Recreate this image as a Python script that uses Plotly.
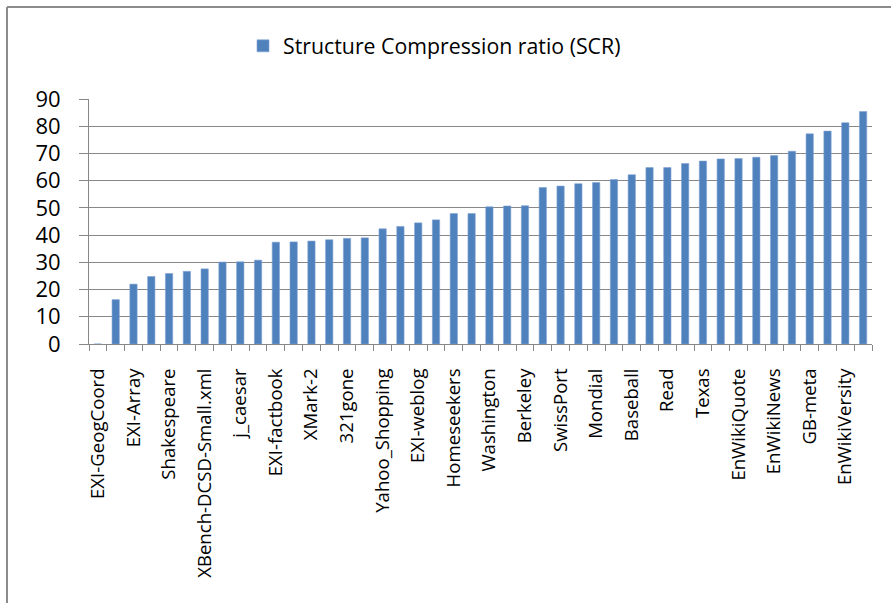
import plotly.graph_objects as go

# ---- data ----
scr_values = [0, 16.3, 22.0, 24.8, 25.9, 26.7, 27.6, 30.1, 30.2, 30.8,
              37.4, 37.5, 37.8, 38.3, 38.8, 39.0, 42.3, 43.2, 44.5, 45.6,
              47.9, 47.9, 50.4, 50.7, 50.8, 57.5, 58.0, 58.9, 59.3, 60.4,
              62.2, 64.8, 64.8, 66.3, 67.2, 68.0, 68.1, 68.6, 69.2, 70.8,
              77.2, 78.2, 81.3, 85.4]
shown_labels = ["EXI-GeogCoord", "EXI-Array", "Shakespeare", "XBench-DCSD-Small.xml",
                "j_caesar", "EXI-factbook", "XMark-2", "321gone", "Yahoo_Shopping",
                "EXI-weblog", "Homeseekers", "Washington", "Berkeley", "SwissPort",
                "Mondial", "Baseball", "Read", "Texas", "EnWikiQuote", "EnWikiNews",
                "GB-meta", "EnWikiVersity"]
y_ticks = [0, 10, 20, 30, 40, 50, 60, 70, 80, 90]
series_name = "Structure Compression ratio (SCR)"

positions = list(range(len(scr_values)))
label_positions = positions[::2]
boundaries = [p - 0.5 for p in positions] + [positions[-1] + 0.5]

W, H = 891, 603
ML, MR, MT, MB = 89, 19, 99, 259
PW, PH = W - ML - MR, H - MT - MB

GRID = "#878787"
FONT = "Open Sans, Noto Sans, sans-serif"

fig = go.Figure()
fig.add_trace(go.Bar(
    x=positions, y=scr_values, name=series_name, width=0.41,
    marker=dict(color="#4F81BD", line=dict(color="#7FA3D3", width=0.6)),
    showlegend=True,
))
# helper trace for the boundary tick axis
fig.add_trace(go.Scatter(
    x=[boundaries[0], boundaries[-1]], y=[0, 0], xaxis="x2", mode="lines",
    line=dict(width=0, color="rgba(0,0,0,0)"), showlegend=False, hoverinfo="skip",
))

def px_x(p):
    return (p - ML) / PW

def px_y(p):
    return (H - MB - p) / PH

fig.update_layout(
    width=W, height=H,
    margin=dict(l=ML, r=MR, t=MT, b=MB, pad=0),
    paper_bgcolor="white", plot_bgcolor="white",
    font=dict(family=FONT, color="black"),
    showlegend=True,
    legend=dict(orientation="h", x=px_x(243), y=px_y(46), xanchor="left", yanchor="middle",
                font=dict(size=21.3, family=FONT, color="black"), bgcolor="rgba(0,0,0,0)"),
    xaxis=dict(range=[boundaries[0], boundaries[-1]], tickmode="array",
               tickvals=label_positions, ticktext=shown_labels, tickangle=-90,
               ticks="", showgrid=False, zeroline=False, showline=True,
               linecolor=GRID, linewidth=1, ticklabelstandoff=16,
               tickfont=dict(size=18.6, family=FONT, color="black")),
    xaxis2=dict(overlaying="x", matches="x", range=[boundaries[0], boundaries[-1]],
                tickmode="array", tickvals=boundaries, ticks="outside", ticklen=6,
                tickcolor=GRID, tickwidth=1, showticklabels=False, showgrid=False,
                zeroline=False, showline=False, anchor="y", side="bottom"),
    yaxis=dict(range=[0, 90], tickmode="array", tickvals=y_ticks,
               ticks="outside", ticklen=9, tickcolor=GRID, tickwidth=1,
               showgrid=True, gridcolor=GRID, gridwidth=1.2, zeroline=False,
               showline=True, linecolor=GRID, linewidth=1, ticklabelstandoff=14,
               tickfont=dict(size=22, family=FONT, color="black")),
    shapes=[
        dict(type="line", xref="paper", yref="paper", x0=px_x(7), x1=px_x(W + 5),
             y0=px_y(7), y1=px_y(7), line=dict(color="#8c8c8c", width=2)),
        dict(type="line", xref="paper", yref="paper", x0=px_x(7), x1=px_x(7),
             y0=px_y(7), y1=px_y(H + 5), line=dict(color="#8c8c8c", width=2)),
    ],
)

fig.write_html("out.html")
